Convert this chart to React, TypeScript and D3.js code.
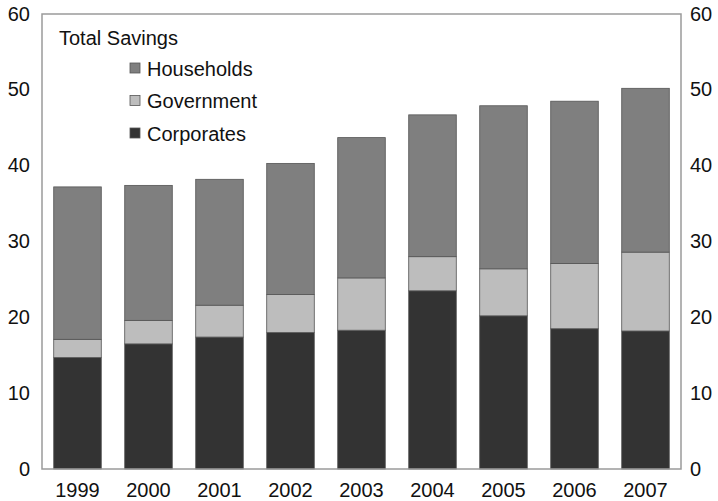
import React from "react";
import * as d3 from "d3";

const years = ["1999", "2000", "2001", "2002", "2003", "2004", "2005", "2006", "2007"];
const corporates = [14.7, 16.5, 17.4, 18.0, 18.3, 23.5, 20.2, 18.5, 18.2];
const government = [2.4, 3.1, 4.2, 5.0, 6.9, 4.5, 6.2, 8.6, 10.4];
const households = [20.1, 17.8, 16.6, 17.3, 18.5, 18.7, 21.5, 21.4, 21.6];
const yTicks = [0, 10, 20, 30, 40, 50, 60];
const seriesKeys = ["corporates", "government", "households"];
const seriesColors: Record<string, string> = {
  corporates: "#333333",
  government: "#bdbdbd",
  households: "#7f7f7f",
};
const legendItems = [
  { key: "households", label: "Households" },
  { key: "government", label: "Government" },
  { key: "corporates", label: "Corporates" },
];

const W = 718;
const H = 501;
const left = 42;
const right = 681;
const top = 14;
const bottom = 469;
const FS = 20;
const FONT = "'Liberation Sans', Arial, Helvetica, sans-serif";

export default function App() {
  const x = d3.scaleBand<string>().domain(years).range([left, right]).paddingInner(0.33).paddingOuter(0.165);
  const y = d3.scaleLinear().domain([0, 60]).range([bottom, top]);
  const table = years.map((yr, i) => ({
    year: yr,
    corporates: corporates[i],
    government: government[i],
    households: households[i],
  }));
  const stacked = d3.stack<any>().keys(seriesKeys)(table);

  return (
    <div style={{ position: "absolute", left: 0, top: 0 }}>
      <svg width={W} height={H} style={{ display: "block", fontFamily: FONT }}>
        <rect x={0} y={0} width={W} height={H} fill="#fff" />
        {stacked.map((s) => (
          <g key={s.key}>
            {s.map((d, i) => (
              <rect
                key={i}
                x={x(years[i])!}
                y={y(d[1])}
                width={x.bandwidth()}
                height={y(d[0]) - y(d[1])}
                fill={seriesColors[s.key]}
                stroke="#555"
                strokeWidth={0.8}
              />
            ))}
          </g>
        ))}
        <rect
          x={left}
          y={top}
          width={right - left}
          height={bottom - top}
          fill="none"
          stroke="#9a9a9a"
          strokeWidth={1.5}
        />
        {yTicks.map((t) => (
          <g key={t} fontSize={FS} fill="#111">
            <text x={30} y={y(t) + 6.5} textAnchor="end">
              {t}
            </text>
            <text x={690} y={y(t) + 6.5} textAnchor="start">
              {t}
            </text>
          </g>
        ))}
        {years.map((yr) => (
          <text
            key={yr}
            x={x(yr)! + x.bandwidth() / 2}
            y={497}
            textAnchor="middle"
            fontSize={FS}
            fill="#111"
          >
            {yr}
          </text>
        ))}
        <text x={59} y={45} fontSize={FS} fill="#111">
          Total Savings
        </text>
        {legendItems.map((it, i) => (
          <g key={it.key}>
            <rect
              x={130}
              y={63 + i * 32.5}
              width={10}
              height={10}
              fill={seriesColors[it.key]}
              stroke="#555"
              strokeWidth={0.8}
            />
            <text x={147} y={75.5 + i * 32.5} fontSize={FS} fill="#111">
              {it.label}
            </text>
          </g>
        ))}
      </svg>
    </div>
  );
}
